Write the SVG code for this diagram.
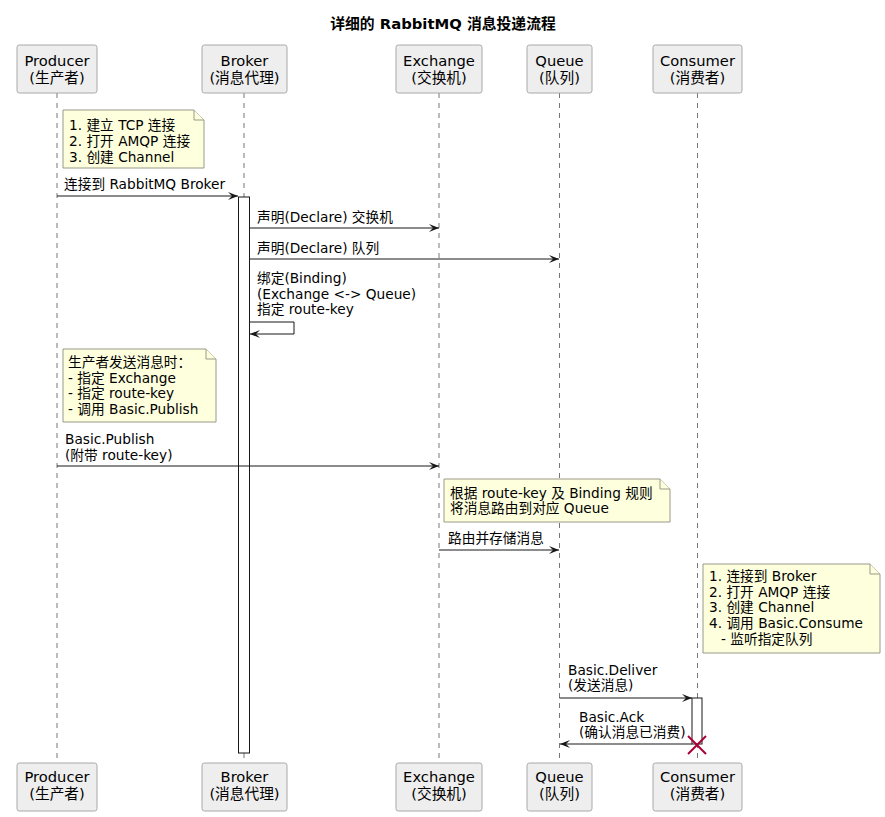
<svg xmlns="http://www.w3.org/2000/svg" width="885" height="817" viewBox="0 0 885 817">
<defs>
<style>
text{font-family:"DejaVu Sans","Noto Sans CJK SC",sans-serif;fill:#000}
.title{font-size:14.8px;font-weight:bold}
.pt{font-size:14.7px}
.m{font-size:13.7px}
.box{fill:#EEEEEE;stroke:#A8A8A8;stroke-width:1}
.life{stroke:#777;stroke-width:1;stroke-dasharray:5,5;fill:none}
.act{fill:#FFFFFF;stroke:#181818;stroke-width:1}
.note{fill:#FEFFDD;stroke:#999988;stroke-width:1}
.msg{stroke:#181818;stroke-width:1;fill:none;marker-end:url(#arr)}
</style>
<marker id="arr" viewBox="0 0 10 8" refX="10" refY="4" markerWidth="10" markerHeight="8" orient="auto" markerUnits="userSpaceOnUse">
<path d="M0,0 L10,4 L0,8 L4,4 Z" fill="#181818"/>
</marker>
</defs>
<rect width="885" height="817" fill="#FFFFFF"/>
<text class="title" x="443" y="29" text-anchor="middle">详细的 RabbitMQ 消息投递流程</text>

<g id="lifelines">
<line class="life" x1="57" y1="93" x2="57" y2="763"/>
<line class="life" x1="244" y1="93" x2="244" y2="763"/>
<line class="life" x1="439" y1="93" x2="439" y2="763"/>
<line class="life" x1="559.5" y1="93" x2="559.5" y2="763"/>
<line class="life" x1="697.5" y1="93" x2="697.5" y2="763"/>
</g>

<g id="producer">
<rect class="box" x="17" y="45" width="80" height="48" rx="2.5"/>
<text class="pt" x="57" y="66" text-anchor="middle">Producer</text>
<text class="pt" x="57" y="83" text-anchor="middle">(生产者)</text>
<rect class="box" x="17" y="763" width="80" height="48" rx="2.5"/>
<text class="pt" x="57" y="782" text-anchor="middle">Producer</text>
<text class="pt" x="57" y="799" text-anchor="middle">(生产者)</text>
</g>
<g id="broker">
<rect class="box" x="202" y="45" width="85" height="48" rx="2.5"/>
<text class="pt" x="244.5" y="66" text-anchor="middle">Broker</text>
<text class="pt" x="244.5" y="83" text-anchor="middle">(消息代理)</text>
<rect class="box" x="202" y="763" width="85" height="48" rx="2.5"/>
<text class="pt" x="244.5" y="782" text-anchor="middle">Broker</text>
<text class="pt" x="244.5" y="799" text-anchor="middle">(消息代理)</text>
<rect class="act" x="238.5" y="197" width="11" height="556"/>
</g>
<g id="exchange">
<rect class="box" x="396" y="45" width="86" height="48" rx="2.5"/>
<text class="pt" x="439" y="66" text-anchor="middle">Exchange</text>
<text class="pt" x="439" y="83" text-anchor="middle">(交换机)</text>
<rect class="box" x="396" y="763" width="86" height="48" rx="2.5"/>
<text class="pt" x="439" y="782" text-anchor="middle">Exchange</text>
<text class="pt" x="439" y="799" text-anchor="middle">(交换机)</text>
</g>
<g id="queue">
<rect class="box" x="527" y="45" width="65" height="48" rx="2.5"/>
<text class="pt" x="559.5" y="66" text-anchor="middle">Queue</text>
<text class="pt" x="559.5" y="83" text-anchor="middle">(队列)</text>
<rect class="box" x="527" y="763" width="65" height="48" rx="2.5"/>
<text class="pt" x="559.5" y="782" text-anchor="middle">Queue</text>
<text class="pt" x="559.5" y="799" text-anchor="middle">(队列)</text>
</g>
<g id="consumer">
<rect class="box" x="653" y="45" width="89" height="48" rx="2.5"/>
<text class="pt" x="697.5" y="66" text-anchor="middle">Consumer</text>
<text class="pt" x="697.5" y="83" text-anchor="middle">(消费者)</text>
<rect class="box" x="653" y="763" width="89" height="48" rx="2.5"/>
<text class="pt" x="697.5" y="782" text-anchor="middle">Consumer</text>
<text class="pt" x="697.5" y="799" text-anchor="middle">(消费者)</text>
<rect class="act" x="692" y="698" width="10" height="46"/>
<g stroke="#A80036" stroke-width="2">
<line x1="688" y1="736" x2="706" y2="754"/>
<line x1="706" y1="736" x2="688" y2="754"/>
</g>
</g>

<g id="note1">
<path class="note" d="M63,110 L194,110 L204,120 L204,168 L63,168 Z"/>
<path class="note" d="M194,110 L194,120 L204,120"/>
<text class="m" x="69" y="130">1. 建立 TCP 连接</text>
<text class="m" x="69" y="146">2. 打开 AMQP 连接</text>
<text class="m" x="69" y="162">3. 创建 Channel</text>
</g>
<g id="note2">
<path class="note" d="M63,349 L206,349 L216,359 L216,422 L63,422 Z"/>
<path class="note" d="M206,349 L206,359 L216,359"/>
<text class="m" x="68" y="367">生产者发送消息时：</text>
<text class="m" x="68" y="383">- 指定 Exchange</text>
<text class="m" x="68" y="398">- 指定 route-key</text>
<text class="m" x="68" y="414">- 调用 Basic.Publish</text>
</g>
<g id="note3">
<path class="note" d="M444,479 L660,479 L670,489 L670,522 L444,522 Z"/>
<path class="note" d="M660,479 L660,489 L670,489"/>
<text class="m" x="450" y="498">根据 route-key 及 Binding 规则</text>
<text class="m" x="450" y="513">将消息路由到对应 Queue</text>
</g>
<g id="note4">
<path class="note" d="M703,564 L870,564 L880,574 L880,653 L703,653 Z"/>
<path class="note" d="M870,564 L870,574 L880,574"/>
<text class="m" x="709" y="581">1. 连接到 Broker</text>
<text class="m" x="709" y="597">2. 打开 AMQP 连接</text>
<text class="m" x="709" y="612">3. 创建 Channel</text>
<text class="m" x="709" y="628">4. 调用 Basic.Consume</text>
<text class="m" x="721" y="644">- 监听指定队列</text>
</g>

<g id="connectors">
<line class="msg" x1="57" y1="196" x2="238" y2="196"/>
<text class="m" x="64" y="189">连接到 RabbitMQ Broker</text>
<line class="msg" x1="250" y1="228" x2="439" y2="228"/>
<text class="m" x="257" y="222">声明(Declare) 交换机</text>
<line class="msg" x1="250" y1="259" x2="559" y2="259"/>
<text class="m" x="257" y="253">声明(Declare) 队列</text>
<polyline class="msg" points="250,322 294,322 294,334 250,334"/>
<text class="m" x="257" y="283">绑定(Binding)</text>
<text class="m" x="257" y="299">(Exchange &lt;-&gt; Queue)</text>
<text class="m" x="257" y="314">指定 route-key</text>
<line class="msg" x1="57" y1="466" x2="439" y2="466"/>
<text class="m" x="65" y="444">Basic.Publish</text>
<text class="m" x="65" y="460">(附带 route-key)</text>
<line class="msg" x1="439" y1="550" x2="559" y2="550"/>
<text class="m" x="448" y="543">路由并存储消息</text>
<line class="msg" x1="559.5" y1="698" x2="692" y2="698"/>
<text class="m" x="568" y="675">Basic.Deliver</text>
<text class="m" x="568" y="690">(发送消息)</text>
<line class="msg" x1="692" y1="744" x2="560" y2="744"/>
<text class="m" x="579" y="722">Basic.Ack</text>
<text class="m" x="579" y="737">(确认消息已消费)</text>
</g>
</svg>
